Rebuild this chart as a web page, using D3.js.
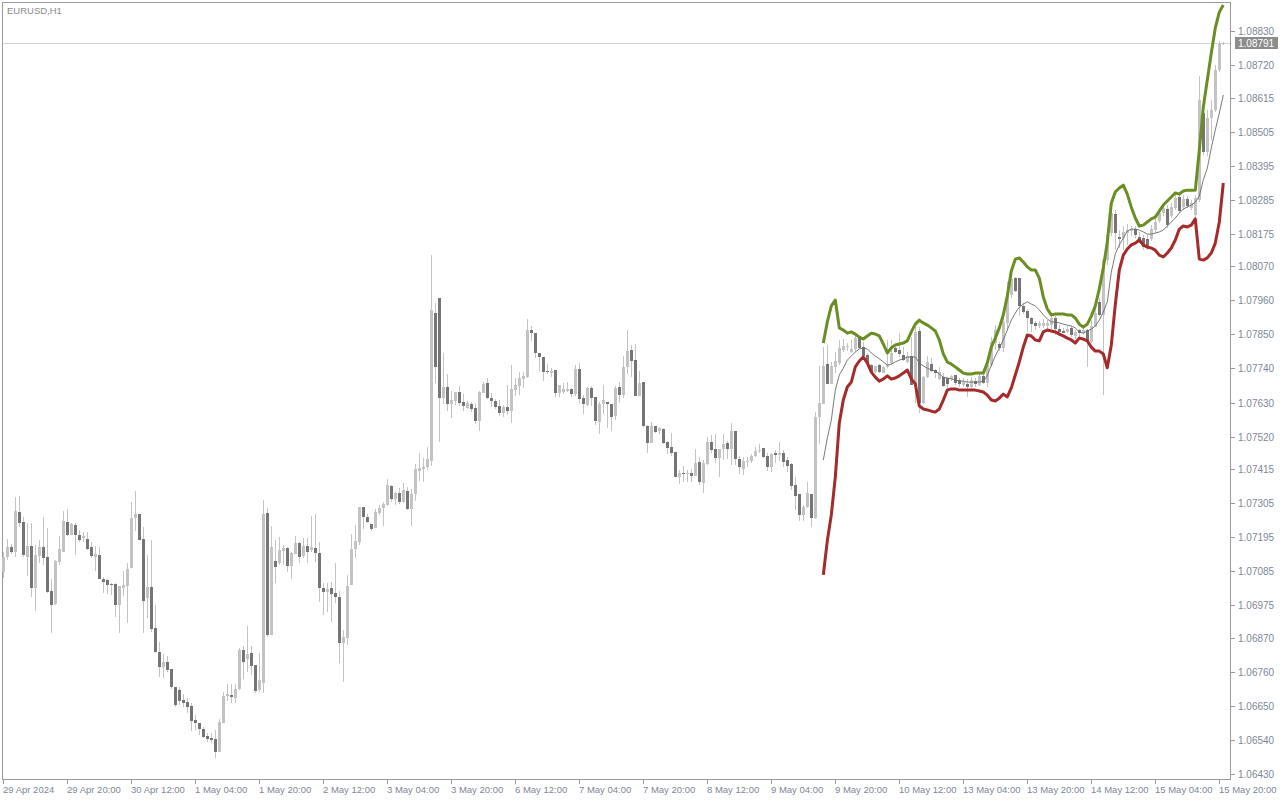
<!DOCTYPE html>
<html><head><meta charset="utf-8">
<script src="https://cdn.jsdelivr.net/npm/d3@7"></script>
<style>html,body{margin:0;padding:0;background:#fff;overflow:hidden}svg{display:block}</style>
</head><body><svg id="c" width="1280" height="800"></svg>
<script>
const symbolLabel = "EURUSD,H1";
const lastPrice = 1.08791;
const open = [
1.07082,1.07131,1.07163,1.07147,1.07276,1.07244,1.07131,1.07166,1.07031,1.07134,
1.07163,1.07131,1.07021,1.06979,1.07115,1.07147,1.07244,1.07202,1.07234,1.07202,
1.07192,1.07189,1.07163,1.07131,1.07137,1.07060,1.07057,1.07044,1.07044,1.06976,
1.07031,1.07037,1.07095,1.07257,1.07270,1.07189,1.06998,1.07034,1.06902,1.06824,
1.06776,1.06792,1.06769,1.06711,1.06701,1.06669,1.06663,1.06650,1.06604,1.06595,
1.06575,1.06553,1.06546,1.06543,1.06501,1.06595,1.06682,1.06685,1.06675,1.06705,
1.06830,1.06801,1.06821,1.06782,1.06701,1.06724,1.07273,1.06879,1.07118,1.07112,
1.07150,1.07160,1.07102,1.07141,1.07176,1.07134,1.07166,1.07153,1.07160,1.07144,
1.07031,1.07018,1.07031,1.07015,1.07002,1.06853,1.06869,1.07040,1.07157,1.07179,
1.07292,1.07260,1.07237,1.07225,1.07273,1.07289,1.07299,1.07360,1.07318,1.07338,
1.07309,1.07344,1.07286,1.07334,1.07409,1.07415,1.07422,1.07441,1.07919,1.07967,
1.07644,1.07680,1.07625,1.07635,1.07664,1.07632,1.07612,1.07625,1.07612,1.07570,
1.07661,1.07693,1.07644,1.07635,1.07619,1.07596,1.07615,1.07602,1.07670,1.07683,
1.07706,1.07712,1.07864,1.07854,1.07790,1.07777,1.07732,1.07725,1.07735,1.07661,
1.07664,1.07667,1.07674,1.07657,1.07738,1.07644,1.07622,1.07677,1.07648,1.07567,
1.07625,1.07632,1.07625,1.07586,1.07680,1.07654,1.07745,1.07799,1.07767,1.07651,
1.07696,1.07554,1.07499,1.07554,1.07538,1.07544,1.07502,1.07486,1.07470,1.07389,
1.07402,1.07399,1.07402,1.07393,1.07438,1.07370,1.07431,1.07502,1.07480,1.07451,
1.07480,1.07499,1.07480,1.07538,1.07447,1.07415,1.07438,1.07441,1.07457,1.07473,
1.07483,1.07457,1.07422,1.07467,1.07460,1.07467,1.07444,1.07431,1.07363,1.07334,
1.07267,1.07292,1.07334,1.07257,1.07583,1.07625,1.07754,1.07690,1.07745,1.07758,
1.07799,1.07809,1.07793,1.07803,1.07838,1.07809,1.07783,1.07751,1.07728,1.07751,
1.07725,1.07745,1.07758,1.07806,1.07799,1.07783,1.07761,1.07780,1.07686,1.07861,
1.07628,1.07712,1.07754,1.07735,1.07706,1.07712,1.07709,1.07706,1.07719,1.07703,
1.07686,1.07690,1.07680,1.07699,1.07686,1.07716,1.07693,1.07751,1.07822,1.07819,
1.07806,1.07887,1.07977,1.08032,1.08032,1.07942,1.07925,1.07903,1.07887,1.07877,
1.07877,1.07877,1.07880,1.07903,1.07867,1.07861,1.07858,1.07871,1.07845,1.07864,
1.07854,1.07864,1.07825,1.07874,1.07955,1.07913,1.08090,1.08177,1.08239,1.08164,
1.08161,1.08177,1.08184,1.08190,1.08164,1.08161,1.08158,1.08158,1.08187,1.08216,
1.08242,1.08255,1.08232,1.08258,1.08294,1.08261,1.08287,1.08258,1.08236,1.08284,
1.08565,1.08439,1.08549,1.08575,1.08704,1.08788];
const high = [
1.07147,1.07189,1.07173,1.07325,1.07328,1.07260,1.07241,1.07241,1.07170,1.07186,
1.07260,1.07225,1.07060,1.07121,1.07199,1.07279,1.07286,1.07241,1.07241,1.07218,
1.07212,1.07212,1.07179,1.07166,1.07163,1.07066,1.07060,1.07047,1.07047,1.07037,
1.07086,1.07112,1.07309,1.07344,1.07270,1.07228,1.07137,1.07186,1.06976,1.06856,
1.06818,1.06811,1.06769,1.06711,1.06711,1.06688,1.06675,1.06659,1.06621,1.06595,
1.06582,1.06562,1.06562,1.06572,1.06608,1.06695,1.06721,1.06721,1.06721,1.06837,
1.06843,1.06908,1.06843,1.06782,1.06821,1.07315,1.07289,1.07231,1.07186,1.07195,
1.07170,1.07163,1.07147,1.07199,1.07179,1.07192,1.07192,1.07263,1.07270,1.07179,
1.07047,1.07047,1.07050,1.07112,1.07021,1.06895,1.07073,1.07205,1.07234,1.07292,
1.07292,1.07270,1.07237,1.07286,1.07299,1.07309,1.07383,1.07363,1.07341,1.07354,
1.07370,1.07357,1.07351,1.07431,1.07467,1.07451,1.07486,1.08106,1.07951,1.07967,
1.07790,1.07722,1.07667,1.07664,1.07684,1.07657,1.07635,1.07632,1.07628,1.07667,
1.07696,1.07709,1.07661,1.07641,1.07638,1.07622,1.07686,1.07751,1.07709,1.07728,
1.07728,1.07900,1.07877,1.07854,1.07790,1.07777,1.07754,1.07741,1.07735,1.07686,
1.07693,1.07696,1.07677,1.07751,1.07758,1.07654,1.07680,1.07683,1.07648,1.07632,
1.07686,1.07632,1.07625,1.07683,1.07696,1.07780,1.07864,1.07816,1.07819,1.07732,
1.07696,1.07557,1.07567,1.07554,1.07551,1.07548,1.07506,1.07531,1.07470,1.07412,
1.07425,1.07412,1.07415,1.07480,1.07454,1.07444,1.07518,1.07525,1.07528,1.07480,
1.07528,1.07506,1.07564,1.07538,1.07457,1.07454,1.07454,1.07464,1.07486,1.07496,
1.07483,1.07467,1.07467,1.07476,1.07502,1.07476,1.07454,1.07435,1.07389,1.07334,
1.07299,1.07373,1.07334,1.07599,1.07748,1.07809,1.07816,1.07761,1.07793,1.07832,
1.07835,1.07822,1.07832,1.07854,1.07841,1.07825,1.07790,1.07754,1.07748,1.07754,
1.07748,1.07832,1.07832,1.07816,1.07854,1.07809,1.07793,1.07841,1.07874,1.07874,
1.07716,1.07780,1.07774,1.07738,1.07745,1.07725,1.07712,1.07719,1.07719,1.07709,
1.07709,1.07706,1.07712,1.07709,1.07725,1.07728,1.07767,1.07841,1.07880,1.07825,
1.07903,1.08019,1.08045,1.08035,1.08032,1.07951,1.07932,1.07906,1.07893,1.07893,
1.07900,1.07896,1.07913,1.07909,1.07880,1.07871,1.07877,1.07877,1.07864,1.07867,
1.07877,1.07867,1.07896,1.07935,1.07967,1.08097,1.08194,1.08261,1.08252,1.08187,
1.08200,1.08206,1.08200,1.08200,1.08181,1.08171,1.08171,1.08203,1.08236,1.08258,
1.08271,1.08268,1.08274,1.08300,1.08310,1.08300,1.08297,1.08284,1.08300,1.08685,
1.08591,1.08575,1.08607,1.08720,1.08798,1.08794];
const low = [
1.07063,1.07121,1.07141,1.07131,1.07228,1.07131,1.07070,1.07002,1.06956,1.07112,
1.07105,1.07015,1.06885,1.06976,1.07105,1.07147,1.07199,1.07202,1.07137,1.07179,
1.07179,1.07153,1.07128,1.07086,1.07060,1.07015,1.07011,1.07008,1.06937,1.06885,
1.07005,1.06918,1.07095,1.07215,1.07186,1.06885,1.06934,1.06889,1.06821,1.06743,
1.06740,1.06759,1.06705,1.06646,1.06653,1.06646,1.06627,1.06569,1.06572,1.06556,
1.06546,1.06533,1.06530,1.06482,1.06501,1.06595,1.06666,1.06659,1.06659,1.06701,
1.06737,1.06759,1.06750,1.06692,1.06695,1.06692,1.06872,1.06879,1.07047,1.07105,
1.07105,1.07082,1.07060,1.07141,1.07112,1.07128,1.07112,1.07147,1.07115,1.06986,
1.06944,1.06953,1.06921,1.06982,1.06789,1.06727,1.06847,1.07040,1.07128,1.07170,
1.07221,1.07241,1.07215,1.07225,1.07267,1.07231,1.07296,1.07309,1.07299,1.07302,
1.07305,1.07283,1.07231,1.07312,1.07376,1.07373,1.07412,1.07425,1.07693,1.07502,
1.07625,1.07602,1.07580,1.07622,1.07619,1.07602,1.07609,1.07599,1.07560,1.07538,
1.07661,1.07641,1.07615,1.07609,1.07586,1.07583,1.07590,1.07564,1.07651,1.07654,
1.07677,1.07709,1.07829,1.07774,1.07732,1.07699,1.07722,1.07712,1.07648,1.07648,
1.07657,1.07664,1.07648,1.07651,1.07628,1.07593,1.07619,1.07619,1.07557,1.07528,
1.07593,1.07548,1.07538,1.07573,1.07628,1.07644,1.07722,1.07712,1.07651,1.07651,
1.07551,1.07467,1.07499,1.07531,1.07528,1.07496,1.07464,1.07457,1.07389,1.07367,
1.07373,1.07373,1.07373,1.07393,1.07363,1.07338,1.07428,1.07467,1.07435,1.07389,
1.07444,1.07447,1.07428,1.07428,1.07399,1.07396,1.07422,1.07435,1.07454,1.07467,
1.07451,1.07409,1.07405,1.07435,1.07441,1.07422,1.07405,1.07347,1.07283,1.07247,
1.07247,1.07289,1.07228,1.07254,1.07496,1.07625,1.07690,1.07690,1.07725,1.07751,
1.07793,1.07796,1.07790,1.07793,1.07803,1.07774,1.07745,1.07725,1.07725,1.07725,
1.07725,1.07741,1.07751,1.07790,1.07777,1.07764,1.07758,1.07686,1.07628,1.07596,
1.07625,1.07709,1.07728,1.07709,1.07703,1.07680,1.07674,1.07699,1.07686,1.07680,
1.07680,1.07648,1.07674,1.07680,1.07683,1.07690,1.07680,1.07745,1.07799,1.07796,
1.07793,1.07864,1.07967,1.07987,1.07909,1.07916,1.07858,1.07858,1.07864,1.07871,
1.07871,1.07867,1.07867,1.07848,1.07848,1.07854,1.07854,1.07841,1.07835,1.07841,
1.07848,1.07745,1.07822,1.07874,1.07909,1.07654,1.08074,1.08168,1.08122,1.08129,
1.08122,1.08139,1.08168,1.08161,1.08145,1.08122,1.08122,1.08152,1.08177,1.08210,
1.08232,1.08194,1.08226,1.08252,1.08242,1.08252,1.08258,1.08252,1.08226,1.08277,
1.08429,1.08426,1.08478,1.08568,1.08697,1.08785];
const close = [
1.07131,1.07163,1.07147,1.07279,1.07241,1.07137,1.07166,1.07031,1.07137,1.07163,
1.07128,1.07018,1.06976,1.07118,1.07157,1.07247,1.07202,1.07237,1.07202,1.07186,
1.07199,1.07157,1.07134,1.07141,1.07060,1.07050,1.07040,1.07040,1.06976,1.07037,
1.07040,1.07092,1.07257,1.07270,1.07186,1.06989,1.07034,1.06898,1.06824,1.06776,
1.06792,1.06766,1.06711,1.06653,1.06666,1.06659,1.06646,1.06601,1.06595,1.06575,
1.06549,1.06543,1.06540,1.06501,1.06598,1.06682,1.06688,1.06679,1.06705,1.06830,
1.06792,1.06818,1.06779,1.06698,1.06734,1.07270,1.06879,1.07163,1.07099,1.07153,
1.07160,1.07102,1.07144,1.07176,1.07131,1.07166,1.07147,1.07163,1.07144,1.07031,
1.07018,1.07028,1.07011,1.07002,1.06853,1.06872,1.07037,1.07157,1.07183,1.07292,
1.07260,1.07244,1.07221,1.07276,1.07289,1.07302,1.07363,1.07318,1.07338,1.07309,
1.07347,1.07286,1.07334,1.07415,1.07418,1.07422,1.07447,1.07929,1.07745,1.07644,
1.07680,1.07625,1.07638,1.07664,1.07628,1.07619,1.07628,1.07609,1.07570,1.07664,
1.07690,1.07644,1.07635,1.07615,1.07596,1.07615,1.07602,1.07674,1.07686,1.07709,
1.07716,1.07864,1.07854,1.07790,1.07777,1.07728,1.07728,1.07732,1.07661,1.07686,
1.07674,1.07674,1.07657,1.07738,1.07641,1.07625,1.07677,1.07644,1.07570,1.07625,
1.07638,1.07625,1.07583,1.07677,1.07654,1.07745,1.07796,1.07764,1.07651,1.07693,
1.07554,1.07499,1.07554,1.07535,1.07548,1.07499,1.07483,1.07467,1.07389,1.07402,
1.07399,1.07402,1.07393,1.07435,1.07373,1.07435,1.07502,1.07476,1.07451,1.07480,
1.07496,1.07480,1.07538,1.07447,1.07422,1.07441,1.07441,1.07457,1.07473,1.07476,
1.07454,1.07422,1.07464,1.07460,1.07467,1.07438,1.07425,1.07360,1.07328,1.07267,
1.07292,1.07338,1.07257,1.07583,1.07628,1.07748,1.07690,1.07748,1.07764,1.07806,
1.07812,1.07812,1.07803,1.07838,1.07806,1.07780,1.07758,1.07728,1.07748,1.07728,
1.07745,1.07751,1.07790,1.07793,1.07787,1.07767,1.07780,1.07686,1.07858,1.07628,
1.07712,1.07761,1.07732,1.07725,1.07728,1.07683,1.07690,1.07716,1.07693,1.07690,
1.07696,1.07680,1.07703,1.07690,1.07716,1.07693,1.07751,1.07825,1.07864,1.07806,
1.07890,1.07984,1.08029,1.07990,1.07942,1.07922,1.07903,1.07883,1.07877,1.07887,
1.07887,1.07887,1.07903,1.07867,1.07858,1.07854,1.07867,1.07848,1.07858,1.07854,
1.07864,1.07825,1.07877,1.07919,1.07913,1.08090,1.08171,1.08242,1.08177,1.08158,
1.08181,1.08187,1.08190,1.08171,1.08155,1.08132,1.08132,1.08190,1.08213,1.08242,
1.08258,1.08203,1.08261,1.08290,1.08248,1.08287,1.08265,1.08274,1.08290,1.08607,
1.08439,1.08549,1.08575,1.08704,1.08788,1.08791];

const bandStart = 205;
const upperBand = [
1.07822,1.07890,1.07942,1.07961,1.07871,1.07864,1.07854,1.07858,1.07851,1.07841,
1.07835,1.07845,1.07854,1.07851,1.07845,1.07819,1.07790,1.07806,1.07816,1.07819,
1.07822,1.07829,1.07858,1.07883,1.07896,1.07887,1.07880,1.07871,1.07861,1.07832,
1.07787,1.07761,1.07754,1.07745,1.07735,1.07725,1.07722,1.07722,1.07725,1.07725,
1.07725,1.07758,1.07809,1.07838,1.07871,1.07913,1.07974,1.08055,1.08093,1.08097,
1.08084,1.08068,1.08058,1.08058,1.08032,1.07971,1.07932,1.07913,1.07916,1.07916,
1.07916,1.07913,1.07913,1.07903,1.07883,1.07874,1.07883,1.07909,1.07942,1.07997,
1.08064,1.08148,1.08274,1.08310,1.08323,1.08332,1.08303,1.08261,1.08226,1.08200,
1.08203,1.08213,1.08223,1.08229,1.08248,1.08268,1.08281,1.08294,1.08307,1.08303,
1.08313,1.08316,1.08316,1.08316,1.08445,1.08584,1.08672,1.08759,1.08840,1.08891,1.08914];
const middleBand = [
1.07444,1.07515,1.07573,1.07670,1.07719,1.07741,1.07767,1.07780,1.07793,1.07803,
1.07806,1.07803,1.07790,1.07780,1.07771,1.07761,1.07751,1.07754,1.07761,1.07767,
1.07771,1.07777,1.07777,1.07777,1.07758,1.07748,1.07741,1.07735,1.07732,1.07722,
1.07712,1.07709,1.07706,1.07703,1.07699,1.07699,1.07696,1.07696,1.07696,1.07696,
1.07699,1.07716,1.07751,1.07780,1.07806,1.07832,1.07864,1.07896,1.07919,1.07938,
1.07948,1.07955,1.07948,1.07942,1.07929,1.07913,1.07900,1.07890,1.07890,1.07887,
1.07883,1.07880,1.07877,1.07871,1.07858,1.07854,1.07861,1.07867,1.07877,1.07896,
1.07922,1.07955,1.08051,1.08110,1.08139,1.08161,1.08184,1.08190,1.08190,1.08187,
1.08181,1.08174,1.08174,1.08177,1.08181,1.08187,1.08200,1.08213,1.08226,1.08242,
1.08255,1.08261,1.08268,1.08277,1.08297,1.08349,1.08387,1.08452,1.08510,1.08565,1.08623];
const lowerBand = [
1.07073,1.07183,1.07267,1.07389,1.07564,1.07638,1.07680,1.07696,1.07745,1.07764,
1.07777,1.07758,1.07728,1.07712,1.07699,1.07706,1.07716,1.07706,1.07709,1.07716,
1.07725,1.07735,1.07706,1.07690,1.07619,1.07609,1.07606,1.07602,1.07599,1.07609,
1.07638,1.07670,1.07674,1.07674,1.07670,1.07670,1.07670,1.07670,1.07670,1.07667,
1.07664,1.07654,1.07638,1.07635,1.07644,1.07657,1.07648,1.07677,1.07719,1.07761,
1.07809,1.07848,1.07845,1.07832,1.07829,1.07858,1.07864,1.07861,1.07858,1.07851,
1.07845,1.07838,1.07832,1.07822,1.07838,1.07835,1.07829,1.07809,1.07796,1.07796,
1.07787,1.07742,1.07816,1.07946,1.08058,1.08106,1.08126,1.08139,1.08145,1.08155,
1.08139,1.08132,1.08129,1.08122,1.08106,1.08100,1.08113,1.08129,1.08155,1.08190,
1.08200,1.08197,1.08203,1.08223,1.08093,1.08090,1.08097,1.08113,1.08145,1.08213,1.08339];

const priceTicks = [1.08830,1.08720,1.08615,1.08505,1.08395,1.08285,1.08175,1.08070,1.07960,1.07850,1.07740,1.07630,1.07520,1.07415,1.07305,1.07195,1.07085,1.06975,1.06870,1.06760,1.06650,1.06540,1.06430];
const timeTickBars = [0,16,32,48,64,80,96,112,128,144,160,176,192,208,224,240,256,272,288,304];
const timeTickLabels = ["29 Apr 2024","29 Apr 20:00","30 Apr 12:00","1 May 04:00","1 May 20:00","2 May 12:00","3 May 04:00","3 May 20:00","6 May 12:00","7 May 04:00","7 May 20:00","8 May 12:00","9 May 04:00","9 May 20:00","10 May 12:00","13 May 04:00","13 May 20:00","14 May 12:00","15 May 04:00","15 May 20:00"];

const FONT = "Liberation Sans, Arial, sans-serif";
const svg = d3.select('#c');
const n = open.length;
const x = d3.scaleLinear().domain([-0.5, n + 0.5]).range([1.3, 1229.3]);
const y = d3.scaleLinear().domain([1.06430, 1.08830]).range([774, 31]);
const R = v => Math.round(v);

// frame
const frame = svg.append('g').attr('shape-rendering','crispEdges');
frame.append('line').attr('x1',2.5).attr('x2',2.5).attr('y1',2).attr('y2',779).attr('stroke','#9a9a9a');
frame.append('line').attr('x1',2).attr('x2',1230).attr('y1',2.5).attr('y2',2.5).attr('stroke','#9a9a9a');
frame.append('line').attr('x1',1230.5).attr('x2',1230.5).attr('y1',2).attr('y2',779).attr('stroke','#9a9a9a');
frame.append('line').attr('x1',2).attr('x2',1231).attr('y1',779.5).attr('y2',779.5).attr('stroke','#9a9a9a');

// bid line
frame.append('line').attr('x1',3).attr('x2',1230).attr('y1',R(y(lastPrice))+0.5).attr('y2',R(y(lastPrice))+0.5).attr('stroke','#d4d4d4');

// candles
const idx = d3.range(n);
const cg = svg.append('g').attr('shape-rendering','crispEdges');
cg.selectAll('rect.w').data(idx).join('rect').attr('class','w')
  .attr('x', i => R(x(i)))
  .attr('width', 1)
  .attr('y', i => R(y(high[i])))
  .attr('height', i => Math.max(1, R(y(low[i])) - R(y(high[i]))))
  .attr('fill', '#c3c3c3');
cg.selectAll('rect.b').data(idx).join('rect').attr('class','b')
  .attr('x', i => R(x(i)) - 1)
  .attr('width', 3)
  .attr('y', i => Math.min(R(y(open[i])), R(y(close[i]))))
  .attr('height', i => Math.max(1, Math.abs(R(y(open[i])) - R(y(close[i])))))
  .attr('fill', i => close[i] >= open[i] ? '#c3c3c3' : '#757575');

// bands
const line = d3.line().x((d,k) => x(bandStart + k)).y(d => y(d));
svg.append('path').attr('d', line(middleBand)).attr('fill','none').attr('stroke','#6a6a6a').attr('stroke-width',0.9);
svg.append('path').attr('d', line(upperBand)).attr('fill','none').attr('stroke','#6b8e23').attr('stroke-width',3).attr('stroke-linejoin','round');
svg.append('path').attr('d', line(lowerBand)).attr('fill','none').attr('stroke','#a52a2a').attr('stroke-width',3).attr('stroke-linejoin','round');

// price axis
const pa = svg.append('g');
pa.selectAll('line').data(priceTicks).join('line')
  .attr('x1',1231).attr('x2',1235).attr('y1',d => R(y(d))+0.5).attr('y2',d => R(y(d))+0.5)
  .attr('stroke','#9a9a9a').attr('shape-rendering','crispEdges');
pa.selectAll('text').data(priceTicks).join('text')
  .attr('x',1238).attr('y',d => R(y(d))+4)
  .attr('font-family',FONT).attr('font-size',10).attr('fill','#7d8796')
  .text(d => d.toFixed(5));
const ly = R(y(lastPrice));
pa.append('rect').attr('x',1235).attr('y',ly-6).attr('width',43).attr('height',12).attr('fill','#8c8c8c');
pa.append('text').attr('x',1238).attr('y',ly+4).attr('font-family',FONT).attr('font-size',10).attr('fill','#ffffff').text(lastPrice.toFixed(5));

// time axis
const ta = svg.append('g');
ta.selectAll('line').data(timeTickBars).join('line')
  .attr('x1',i => R(x(i))+0.5).attr('x2',i => R(x(i))+0.5).attr('y1',780).attr('y2',784)
  .attr('stroke','#9a9a9a').attr('shape-rendering','crispEdges');
ta.selectAll('text').data(timeTickBars).join('text')
  .attr('x',i => R(x(i))).attr('y',793)
  .attr('font-family',FONT).attr('font-size',9.5).attr('fill','#7d8796')
  .text((i,k) => timeTickLabels[k]);

// symbol label
svg.append('text').attr('x',7).attr('y',14).attr('font-family',FONT).attr('font-size',9.5).attr('fill','#8a8a8a').text(symbolLabel);
</script>
</body></html>
